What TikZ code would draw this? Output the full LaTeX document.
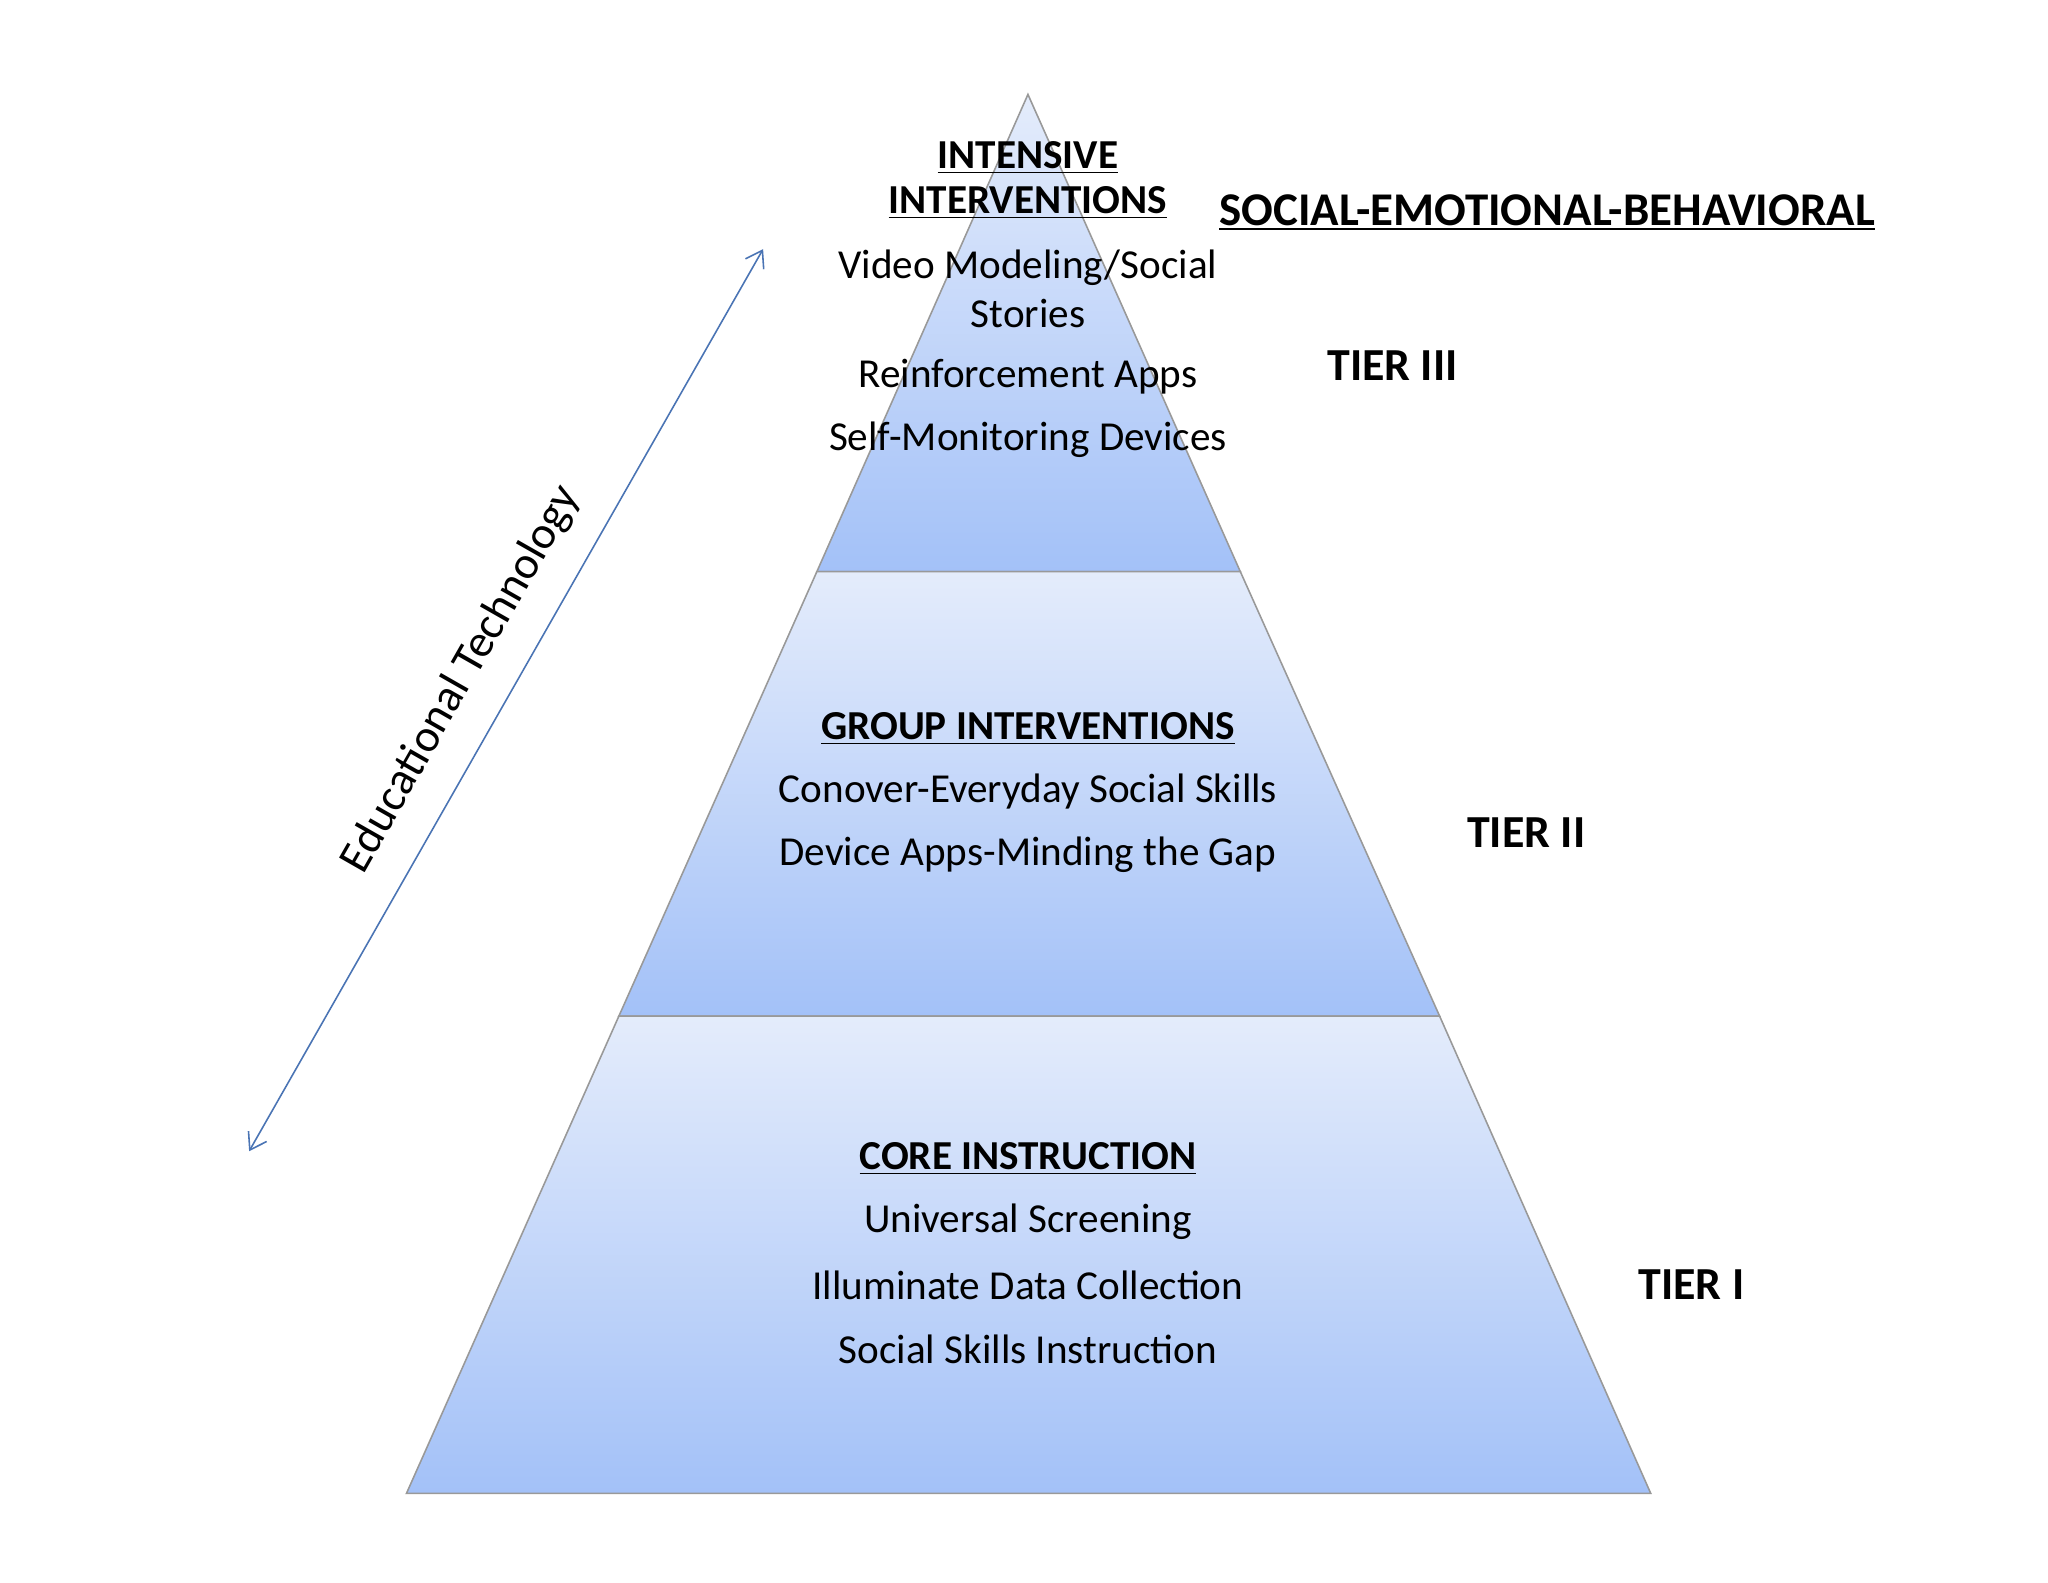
\documentclass[tikz,border=0pt]{standalone}
\usepackage{fontspec}
\setmainfont{Carlito}
\usetikzlibrary{arrows.meta}
\definecolor{ttop}{HTML}{E4ECFB}
\definecolor{tbot}{HTML}{A3C1F8}
\definecolor{arr}{HTML}{4A74B4}
\begin{document}
\begin{tikzpicture}[x=0.5pt,y=-0.5pt,
  tier/.style={draw=gray!80,line width=0.6pt,top color=ttop,bottom color=tbot},
  txt/.style={font=\fontsize{15.7}{18}\selectfont,inner sep=0pt},
  hd/.style={font=\fontsize{15.7}{18}\selectfont\bfseries,inner sep=0pt},
  tierlab/.style={font=\fontsize{17.5}{20}\selectfont\bfseries,inner sep=0pt}]
\useasboundingbox (0,0) rectangle (1562,1207);
\fill[white] (0,0) rectangle (1562,1207);
\path[tier] (784,72) -- (946,436) -- (623,436) -- cycle;
\path[tier] (623,436) -- (946,436) -- (1098,775) -- (472,775) -- cycle;
\path[tier] (472,775) -- (1098,775) -- (1259,1139) -- (310,1139) -- cycle;
\node[hd] (a1) at (784,120) {\underline{INTENSIVE}};
\node[hd] (a2) at (784,155) {\underline{INTERVENTIONS}};
\node[txt] (a3) at (784,204) {Video Modeling/Social};
\node[txt] (a4) at (784,239) {Stories};
\node[txt] (a5) at (784,287) {Reinforcement Apps};
\node[txt] (a6) at (784,335) {Self-Monitoring Devices};
\node[hd] (b1) at (784,556) {\underline{GROUP INTERVENTIONS}};
\node[txt] (b2) at (784,604) {Conover-Everyday Social Skills};
\node[txt] (b3) at (784,652) {Device Apps-Minding the Gap};
\node[hd] (c1) at (784,884) {\underline{CORE INSTRUCTION}};
\node[txt] (c2) at (784,932) {Universal Screening};
\node[txt] (c3) at (784,980) {Illuminate Data Collection};
\node[txt] (c4) at (784,1029) {Social Skills Instruction};
\node[font=\fontsize{17.9}{20}\selectfont\bfseries,inner sep=0pt] (seb) at (1180,162) {\underline{SOCIAL-EMOTIONAL-BEHAVIORAL}};
\node[tierlab] (t3) at (1062,279) {TIER III};
\node[tierlab] (t2) at (1164,635) {TIER II};
\node[tierlab] (t1) at (1290,980) {TIER I};
\coordinate (e1) at (190,878);
\coordinate (e2) at (582,190);
\draw[arr,line width=0.6pt,{Straight Barb[length=6pt,width=8pt]}-{Straight Barb[length=6pt,width=8pt]}] (e1) -- (e2);
\node[font=\fontsize{17.5}{20}\selectfont,rotate=60.3,inner sep=0pt] (et) at (352,518) {Educational Technology};
\end{tikzpicture}
\end{document}
